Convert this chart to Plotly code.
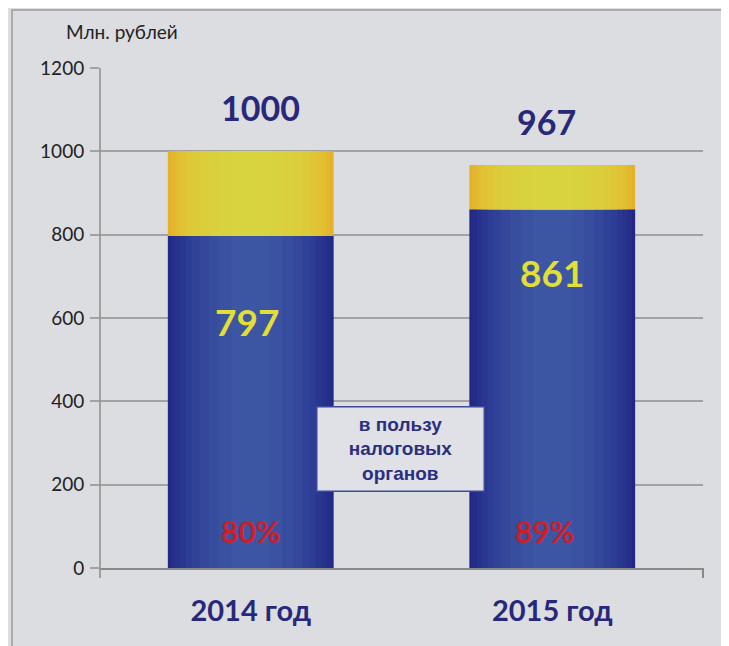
import plotly.graph_objects as go

categories = ["2014 год", "2015 год"]
blue_values = [797, 861]
totals = [1000, 967]
percent_labels = ["80%", "89%"]
y_ticks = [0, 200, 400, 600, 800, 1000, 1200]
unit_label = "Млн. рублей"
box_text = "в пользу<br>налоговых<br>органов"

yellow_values = [t - b for t, b in zip(totals, blue_values)]

FONT = "Lato, Open Sans, sans-serif"
BG = "#dcdde0"
NAVY = "#28287a"

# plot area in screen pixels (page has 8px body margin)
PL, PR, PT, PB = 100, 703, 68, 568
PW, PH = PR - PL, PB - PT

fig = go.Figure()

# simulated horizontal gradient via overlaid bars of decreasing width
blue_layers = [(0.55, "#212885"), (0.53, "#242d89"), (0.50, "#27328d"), (0.47, "#2a3791"), (0.43, "#2d3d95"),
               (0.39, "#304298"), (0.34, "#34479b"), (0.28, "#374d9e"), (0.21, "#3a52a1"), (0.13, "#3c56a3")]
yellow_layers = [(0.55, "#e4b22a"), (0.53, "#e3b72d"), (0.50, "#e2bd30"), (0.47, "#e0c233"), (0.43, "#dfc636"),
                 (0.39, "#ddca39"), (0.34, "#dccd3b"), (0.28, "#dad03d"), (0.21, "#d9d23f"), (0.13, "#d8d440")]

for w, c in blue_layers:
    fig.add_trace(go.Bar(x=categories, y=blue_values, base=[0, 0], width=w,
                         marker=dict(color=c, line=dict(width=0)), hoverinfo="skip", showlegend=False))
for w, c in yellow_layers:
    fig.add_trace(go.Bar(x=categories, y=yellow_values, base=blue_values, width=w,
                         marker=dict(color=c, line=dict(width=0)), hoverinfo="skip", showlegend=False))

annotations = []
total_xshift = [10, -6]
for i, cat in enumerate(categories):
    annotations.append(dict(x=cat, y=totals[i], text=f"<b>{totals[i]}</b>", showarrow=False,
                            yanchor="middle", yshift=44, xshift=total_xshift[i],
                            font=dict(family=FONT, size=34, color=NAVY)))
value_shifts = [-86, -63]
value_xshift = [-4, 0]
for i, cat in enumerate(categories):
    annotations.append(dict(x=cat, y=blue_values[i], text=f"<b>{blue_values[i]}</b>", showarrow=False,
                            yanchor="middle", yshift=value_shifts[i], xshift=value_xshift[i],
                            font=dict(family=FONT, size=37, color="#e2de36")))
pct_xshift = [0, -8]
for i, cat in enumerate(categories):
    annotations.append(dict(x=cat, y=0, text=f"<b>{percent_labels[i]}</b>", showarrow=False,
                            yanchor="middle", yshift=37, xshift=pct_xshift[i],
                            font=dict(family=FONT, size=30, color="#cc1f28")))
annotations.append(dict(xref="paper", yref="paper", x=(400 - PL) / PW, y=(PB - 448.5) / PH,
                        xanchor="center", yanchor="middle",
                        text=f"<b>{box_text}</b>", showarrow=False, align="center",
                        font=dict(family="Liberation Sans, Arial, sans-serif", size=19, color="#2a2f7e"),
                        bgcolor="#dfe1e7", bordercolor="#3d4a98", borderwidth=1.5, borderpad=0,
                        width=166, height=83, valign="middle"))
annotations.append(dict(xref="paper", yref="paper", x=(64 - PL) / PW, y=(PB - 32) / PH,
                        xanchor="left", yanchor="middle", text=unit_label, showarrow=False,
                        font=dict(family=FONT, size=19, color="#222222")))

shapes = [
    # outer frame
    dict(type="rect", xref="paper", yref="paper", x0=(12 - PL) / PW, x1=(760 - PL) / PW,
         y0=(PB - 680) / PH, y1=(PB - 10) / PH, line=dict(color="#9a9a9a", width=1.5), layer="below"),
    # y-axis line extended below zero
    dict(type="line", xref="paper", yref="paper", x0=0, x1=0, y0=-10 / PH, y1=1.0,
         line=dict(color="#8a8a8a", width=1.5)),
    # right-end tick of x axis
    dict(type="line", xref="paper", yref="paper", x0=1, x1=1, y0=-10 / PH, y1=0,
         line=dict(color="#8a8a8a", width=2)),
]

fig.update_layout(
    width=729, height=646,
    margin=dict(l=PL - 8, r=729 + 8 - PR, t=PT - 8, b=646 + 8 - PB),
    paper_bgcolor=BG, plot_bgcolor=BG,
    barmode="overlay",
    showlegend=False,
    annotations=annotations,
    shapes=shapes,
    xaxis=dict(showgrid=False, showline=True, linecolor="#8a8a8a", linewidth=2,
               ticks="", tickfont=dict(family=FONT, size=29, color=NAVY),
               ticklabelstandoff=16, fixedrange=True),
    yaxis=dict(range=[0, 1200], tickvals=y_ticks, showgrid=True, gridcolor="#a2a2a4", gridwidth=2,
               zeroline=False, showline=False, ticks="outside", ticklen=9, tickcolor="#a2a2a4",
               tickwidth=2, tickfont=dict(family=FONT, size=19, color="#222222"),
               ticklabelstandoff=2, fixedrange=True),
)
fig.update_xaxes(tickprefix="<b>", ticksuffix="</b>")

fig.write_html("out.html")
